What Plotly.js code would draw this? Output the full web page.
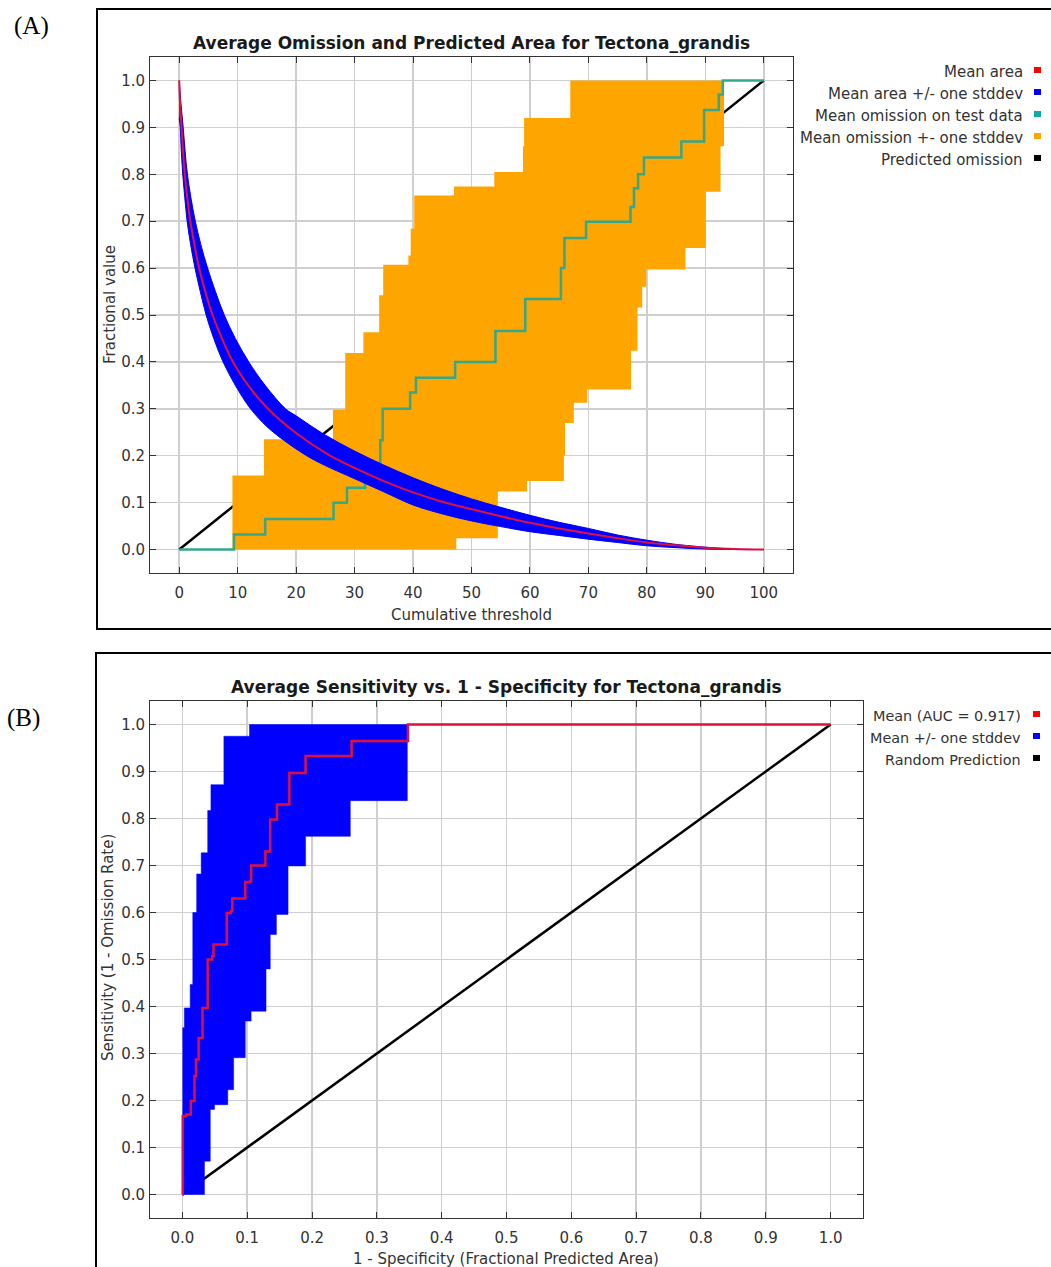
<!DOCTYPE html>
<html><head><meta charset="utf-8">
<script src="https://cdn.plot.ly/plotly-3.0.1.min.js"></script>
<style>html,body{margin:0;padding:0;background:#fff}</style>
</head><body><div id="chart" style="width:1051px;height:1267px"></div>
<script>
// ---------- Panel A : Average Omission and Predicted Area ----------
const thresholdTicks = [0,10,20,30,40,50,60,70,80,90,100];
const fracTicks = [0,0.1,0.2,0.3,0.4,0.5,0.6,0.7,0.8,0.9,1.0];

const meanAreaX = [0,0.15,0.4,0.65,0.95,1.38,1.9,2.6,3.4,4.45,5.7,7.3,9.2,11.8,15.2,19.8,25.8,30,35,40,45,50,55,60,65,70,75,80,85,90,95,100];
const meanAreaY = [1.0,0.95,0.9,0.85,0.8,0.75,0.7,0.65,0.6,0.55,0.5,0.45,0.4,0.35,0.3,0.25,0.2,0.174,0.146,0.122,0.102,0.086,0.071,0.057,0.045,0.034,0.024,0.015,0.009,0.004,0.001,0];

const areaUpperX = [0,0.3,0.68,1.0,1.4,2.0,2.75,3.7,4.85,6.2,7.7,9.6,11.9,14.7,18.2,20,25,30,35,40,45,50,55,60,65,70,75,80,85,90,95,100];
const areaUpperY = [1.0,0.95,0.9,0.85,0.8,0.75,0.7,0.65,0.6,0.55,0.5,0.45,0.4,0.35,0.3,0.285,0.244,0.21,0.18,0.153,0.129,0.108,0.09,0.073,0.058,0.045,0.031,0.02,0.011,0.005,0.001,0];
const areaLowerX = [0,0.17,0.35,0.6,0.95,1.35,1.95,2.7,3.6,4.6,5.9,7.5,9.6,12.2,15,18,21.8,25,30,35,40,45,50,55,60,65,70,75,80,85,90,95,100];
const areaLowerY = [0.92,0.9,0.85,0.8,0.75,0.7,0.65,0.6,0.55,0.5,0.45,0.4,0.35,0.3,0.262,0.232,0.2,0.179,0.151,0.123,0.095,0.076,0.061,0.049,0.038,0.03,0.022,0.015,0.008,0.004,0.001,0,0];

const omitMeanX = [0,9.37,14.7,26.4,28.7,31.8,34.4,34.8,39.5,40.5,47.2,54.1,59.2,65.3,65.9,69.6,77.2,77.8,78.5,79.5,85.9,89.8,92.3,93.0,100];
const omitMeanY = [0,0.032,0.065,0.1,0.132,0.165,0.233,0.3,0.335,0.366,0.4,0.466,0.534,0.6,0.664,0.699,0.73,0.77,0.8,0.836,0.87,0.937,0.97,1.0,1.0];

const omitHighX = [0,9.1,14.5,26.3,28.4,31.5,34.2,34.9,39.2,39.6,40.2,47.0,53.9,58.8,59.0,66.9,93.2];
const omitHighY = [0,0.158,0.235,0.298,0.419,0.463,0.542,0.607,0.627,0.684,0.755,0.774,0.805,0.86,0.92,1.0,1.0];
const omitLowX  = [0,47.4,54.5,59.5,65.8,66.0,67.5,69.8,77.3,78.4,79.2,79.9,86.6,90.1,92.6,93.2];
const omitLowY  = [0,0.024,0.124,0.146,0.2,0.27,0.313,0.341,0.424,0.516,0.56,0.597,0.643,0.763,0.86,1.0];

const predOmitX = [0,100];
const predOmitY = [0,1];

const legendAText = ['Mean area','Mean area +/- one stddev','Mean omission on test data','Mean omission +- one stddev','Predicted omission'];
const legendAColor = ['#ff0000','#0000ff','#13a8a8','#ffa500','#000000'];

// ---------- Panel B : ROC ----------
const fprTicks = [0,0.1,0.2,0.3,0.4,0.5,0.6,0.7,0.8,0.9,1.0];
const rocMeanX = [0,0.0005,0.006,0.013,0.0186,0.021,0.025,0.031,0.039,0.046,0.048,0.0685,0.075,0.077,0.097,0.1046,0.106,0.128,0.1355,0.146,0.165,0.19,0.261,0.348,1.0];
const rocMeanY = [0,0.167,0.17,0.199,0.252,0.287,0.333,0.397,0.5,0.507,0.532,0.599,0.603,0.63,0.665,0.667,0.70,0.73,0.798,0.83,0.897,0.933,0.965,1.0,1.0];
const rocHighX = [0,0.0005,0.003,0.012,0.016,0.022,0.029,0.039,0.044,0.064,0.1035,0.348];
const rocHighY = [0.18,0.355,0.397,0.447,0.60,0.682,0.727,0.817,0.872,0.975,1.0,1.0];
const rocLowX  = [0,0.034,0.043,0.0495,0.070,0.079,0.097,0.106,0.129,0.1355,0.145,0.163,0.190,0.259,0.347];
const rocLowY  = [0,0.071,0.181,0.191,0.223,0.291,0.369,0.39,0.48,0.553,0.596,0.699,0.762,0.838,1.0];
const randomX = [0,1];
const randomY = [0,1];

const legendBText = ['Mean (AUC = 0.917)','Mean +/- one stddev','Random Prediction'];
const legendBColor = ['#ff0000','#0000ff','#000000'];

// ---------- helpers ----------
const W = 1051, H = 1267;
const px = x => x / W;
const py = y => 1 - y / H;
function stepPts(xs, ys) {           // corners of a step ("hv") function
  const X = [], Y = [];
  for (let i = 0; i < xs.length; i++) {
    X.push(xs[i]); Y.push(ys[i]);
    if (i < xs.length - 1) { X.push(xs[i+1]); Y.push(ys[i]); }
  }
  return [X, Y];
}
function band(hx, hy, lx, ly) {       // polygon: high edge forward, low edge back
  return [hx.concat(lx.slice().reverse()), hy.concat(ly.slice().reverse())];
}

const FONT = 'DejaVu Sans';
const [ohX, ohY] = stepPts(omitHighX, omitHighY);
const [olX, olY] = stepPts(omitLowX, omitLowY);
const [omitBandX, omitBandY] = band(ohX, ohY, olX, olY);
const [areaBandX, areaBandY] = band(areaUpperX, areaUpperY, areaLowerX, areaLowerY);
const [rhX, rhY] = stepPts(rocHighX, rocHighY);
const [rlX, rlY] = stepPts(rocLowX, rocLowY);
const [rocBandX, rocBandY] = band(rhX, rhY, rlX, rlY);

const traces = [
  {x: predOmitX, y: predOmitY, mode:'lines', line:{color:'#000', width:2.5}, xaxis:'x', yaxis:'y', hoverinfo:'skip'},
  {x: omitBandX, y: omitBandY, mode:'lines', fill:'toself', fillcolor:'#ffa500', line:{width:0, color:'#ffa500'}, xaxis:'x', yaxis:'y', hoverinfo:'skip'},
  {x: omitMeanX, y: omitMeanY, mode:'lines', line:{color:'#35a88c', width:2.5, shape:'hv'}, xaxis:'x', yaxis:'y'},
  {x: areaBandX, y: areaBandY, mode:'lines', fill:'toself', fillcolor:'#0000ff', line:{width:1, color:'#0000ff', shape:'spline', smoothing:1}, xaxis:'x', yaxis:'y', hoverinfo:'skip'},
  {x: meanAreaX, y: meanAreaY, mode:'lines', line:{color:'#e0103c', width:2, shape:'spline', smoothing:1}, xaxis:'x', yaxis:'y'},

  {x: randomX, y: randomY, mode:'lines', line:{color:'#000', width:2.5}, xaxis:'x2', yaxis:'y2', hoverinfo:'skip'},
  {x: rocBandX, y: rocBandY, mode:'lines', fill:'toself', fillcolor:'#0000ff', line:{width:0.5, color:'#0000ff'}, xaxis:'x2', yaxis:'y2', hoverinfo:'skip'},
  {x: rocMeanX, y: rocMeanY, mode:'lines', line:{color:'#e0103c', width:2.5, shape:'hv'}, xaxis:'x2', yaxis:'y2'}
];

const axisBase = {
  showline:true, mirror:'ticks', linecolor:'#333', linewidth:1,
  ticks:'inside', ticklen:6, tickcolor:'#333', tickwidth:1,
  showgrid:true, gridcolor:'#cfcfcf', gridwidth:1.5, zeroline:false,
  tickfont:{family:FONT, size:15, color:'#333'}, fixedrange:true
};

const annotations = [];
const shapes = [];
function txt(x, y, text, opts) {
  annotations.push(Object.assign({xref:'paper', yref:'paper', x:px(x), y:py(y), text:text,
    showarrow:false, xanchor:'center', yanchor:'middle',
    font:{family:FONT, size:15, color:'#333'}}, opts || {}));
}
// panel labels
txt(31, 26, '(A)', {font:{family:'Liberation Serif', size:25, color:'#000'}});
txt(23, 718, '(B)', {font:{family:'Liberation Serif', size:25, color:'#000'}});
// titles
txt(471.5, 43, '<b>Average Omission and Predicted Area for Tectona_grandis</b>', {font:{family:FONT, size:17, color:'#1a1a1a'}});
txt(506, 687, '<b>Average Sensitivity vs. 1 - Specificity for Tectona_grandis</b>', {font:{family:FONT, size:17, color:'#1a1a1a'}});
// axis titles
txt(471, 615, 'Cumulative threshold');
txt(110, 305, 'Fractional value', {textangle:-90});
txt(506, 1259, '1 - Specificity (Fractional Predicted Area)');
txt(108, 948, 'Sensitivity (1 - Omission Rate)', {textangle:-90});
// legends
legendAText.forEach((t, i) => {
  txt(1025, 72 + 22*i, t, {xanchor:'right'});
  shapes.push({type:'rect', xref:'paper', yref:'paper', x0:px(1034), x1:px(1041), y0:py(67+22*i), y1:py(73+22*i), fillcolor:legendAColor[i], line:{width:0}});
});
legendBText.forEach((t, i) => {
  txt(1023, 716 + 22*i, t, {xanchor:'right', font:{family:FONT, size:14.4, color:'#333'}});
  shapes.push({type:'rect', xref:'paper', yref:'paper', x0:px(1033), x1:px(1040), y0:py(711+22*i), y1:py(717+22*i), fillcolor:legendBColor[i], line:{width:0}});
});
// outer frames
shapes.push({type:'rect', xref:'paper', yref:'paper', x0:px(97), x1:px(1060), y0:py(629), y1:py(9), line:{color:'#000', width:2}, fillcolor:'rgba(0,0,0,0)', layer:'below'});
shapes.push({type:'rect', xref:'paper', yref:'paper', x0:px(96), x1:px(1060), y0:py(1290), y1:py(653), line:{color:'#000', width:2}, fillcolor:'rgba(0,0,0,0)', layer:'below'});

const layout = {
  width:W, height:H, margin:{l:0,r:0,t:0,b:0}, showlegend:false,
  paper_bgcolor:'#fff', plot_bgcolor:'#fff',
  xaxis: Object.assign({}, axisBase, {domain:[px(150), px(793)], range:[-5,105], tickvals:thresholdTicks, anchor:'y', ticklabelstandoff:6}),
  yaxis: Object.assign({}, axisBase, {domain:[py(573), py(57)], range:[-0.05,1.05], tickvals:fracTicks, tickformat:'.1f', anchor:'x', ticklabelstandoff:1}),
  xaxis2: Object.assign({}, axisBase, {domain:[px(150), px(863)], range:[-0.05,1.05], tickvals:fprTicks, tickformat:'.1f', anchor:'y2', ticklabelstandoff:6}),
  yaxis2: Object.assign({}, axisBase, {domain:[py(1218), py(701)], range:[-0.05,1.05], tickvals:fracTicks, tickformat:'.1f', anchor:'x2', ticklabelstandoff:1}),
  annotations: annotations, shapes: shapes
};

Plotly.newPlot('chart', traces, layout, {staticPlot:true});
</script></body></html>
